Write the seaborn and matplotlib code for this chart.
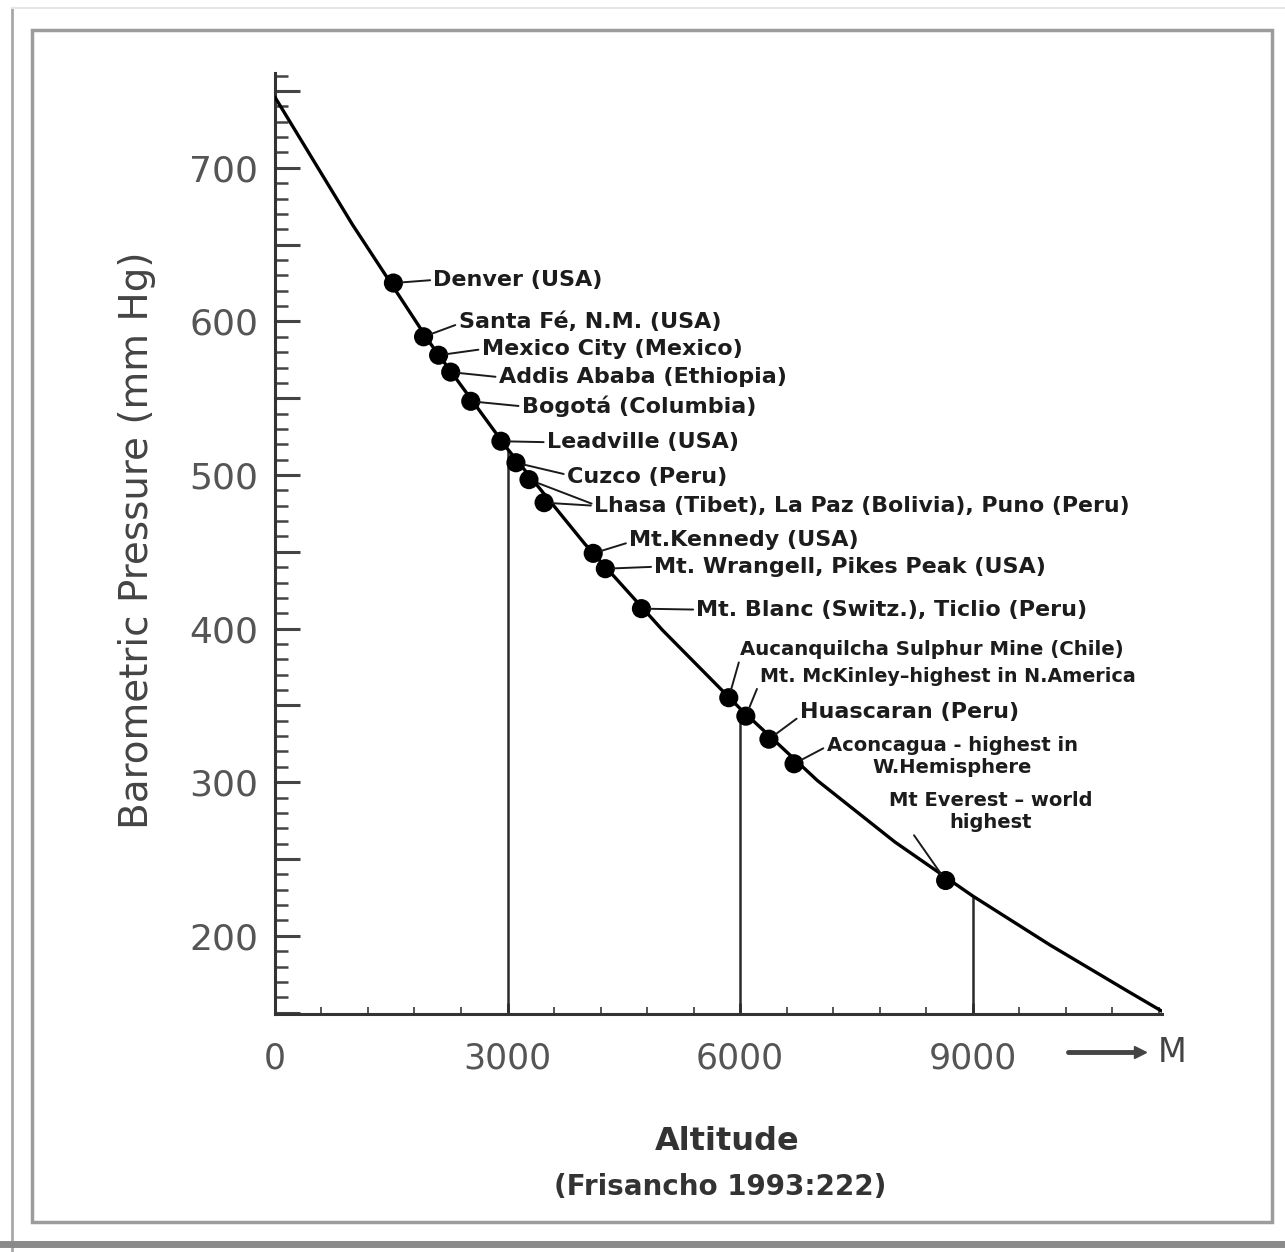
import numpy as np
import matplotlib
matplotlib.use("Agg")
import matplotlib.pyplot as plt
from matplotlib.ticker import MultipleLocator, FuncFormatter
from matplotlib.patches import Rectangle
from matplotlib.lines import Line2D
import seaborn as sns

# barometric pressure curve (altitude m, mm Hg)
curve_alt = [0, 1000, 2000, 3000, 4000, 5000, 6000, 7000, 8000, 9000, 10000, 11000, 11440]
curve_mmhg = [746, 663, 586, 517, 455, 399, 348, 301, 261, 226, 194, 164, 151]

# marked places
place_alt = [1528, 1917, 2111, 2267, 2526, 2915, 3109, 3277, 3472, 4106, 4262,
             4728, 5855, 6075, 6373, 6697, 8653]
place_mmhg = [625, 590, 578, 567, 548, 522, 508, 497, 482, 449, 439,
              413, 355, 343, 328, 312, 236]
place_names = [
    "Denver (USA)",
    "Santa Fé, N.M. (USA)",
    "Mexico City (Mexico)",
    "Addis Ababa (Ethiopia)",
    "Bogotá (Columbia)",
    "Leadville (USA)",
    "Cuzco (Peru)",
    "",
    "Lhasa (Tibet), La Paz (Bolivia), Puno (Peru)",
    "Mt.Kennedy (USA)",
    "Mt. Wrangell, Pikes Peak (USA)",
    "Mt. Blanc (Switz.), Ticlio (Peru)",
    "Aucanquilcha Sulphur Mine (Chile)",
    "Mt. McKinley–highest in N.America",
    "Huascaran (Peru)",
    "Aconcagua - highest in\nW.Hemisphere",
    "Mt Everest – world\nhighest",
]

# reference altitudes with drop lines
ref_alt = [3000, 6000, 9000]
ytick_vals = [200, 300, 400, 500, 600, 700]
xtick_vals = [0, 3000, 6000, 9000]

# label layout: (offset in points, ha, relpos of connector, fontsize)
label_layout = [
    ((28.8, 2.2), "left", (0, 0.5), 16),
    ((25.2, 10.8), "left", (0, 0.4), 16),
    ((31.0, 4.3), "left", (0, 0.5), 16),
    ((34.6, -3.6), "left", (0, 0.5), 16),
    ((36.7, -3.6), "left", (0, 0.5), 16),
    ((33.1, -0.7), "left", (0, 0.5), 16),
    ((36.7, -10.1), "left", (0, 0.6), 16),
    None,
    ((36.0, -2.2), "left", (0, 0.5), 15.8),
    ((25.9, 9.4), "left", (0, 0.4), 16),
    ((35.3, 1.4), "left", (0, 0.5), 16),
    ((39.6, -0.7), "left", (0, 0.5), 16),
    ((7.9, 34.6), "left", (0, 0.0), 14.2),
    ((10.1, 28.8), "left", (0, 0.2), 13.8),
    ((22.3, 19.4), "left", (0, 0.3), 16),
    ((113.8, 5.0), "center", (0, 0.75), 14),
    ((32.4, 49.7), "center", (0.07, 0.3), 14),
]

sns.set_style("white")
plt.rcParams["font.family"] = ["DejaVu Sans"]

fig = plt.figure(figsize=(12.85, 12.52), dpi=100)
fig.patch.set_facecolor("white")
ax = fig.add_axes([0.214, 0.190, 0.690, 0.752])
ax.set_facecolor("white")

ax.vlines(ref_alt, 149, np.interp(ref_alt, curve_alt, curve_mmhg),
          color="#2a2a2a", lw=1.8, zorder=2)
sns.lineplot(x=curve_alt, y=curve_mmhg, ax=ax, color="black", lw=2.4, zorder=3)
sns.scatterplot(x=place_alt, y=place_mmhg, ax=ax, s=190, color="black",
                edgecolor="none", zorder=4)

arrow_kw = dict(arrowstyle="-", color="#1a1a1a", lw=1.4, shrinkA=0, shrinkB=6)
for i, name in enumerate(place_names):
    lay = label_layout[i]
    if lay is None:
        continue
    off, ha, rel, fs = lay
    ax.annotate(name, xy=(place_alt[i], place_mmhg[i]), xytext=off,
                textcoords="offset points", ha=ha, va="center",
                multialignment="center", fontsize=fs, fontweight="bold",
                color="#1c1c1c", arrowprops=dict(arrow_kw, relpos=rel), zorder=5)
# second connector from the Lhasa / La Paz label
ax.annotate("", xy=(place_alt[7], place_mmhg[7]), xytext=(47, -18),
            textcoords="offset points", arrowprops=dict(arrow_kw, shrinkA=2))

ax.set_xlim(0, 11440)
ax.set_ylim(149, 762)
sns.despine(ax=ax)
for s in ["left", "bottom"]:
    ax.spines[s].set_color("#333333")
    ax.spines[s].set_linewidth(2.2)

ax.yaxis.set_major_locator(MultipleLocator(50))
ax.yaxis.set_minor_locator(MultipleLocator(10))
ax.yaxis.set_major_formatter(FuncFormatter(
    lambda v, p: f"{int(v)}" if int(round(v)) in ytick_vals else ""))
ax.set_xticks(xtick_vals)
ax.xaxis.set_minor_locator(MultipleLocator(600))
ax.tick_params(which="both", left=True, bottom=True)
ax.tick_params(axis="y", which="major", direction="in", length=18, width=2.2,
               color="#444444", labelsize=26, labelcolor="#555555", pad=12)
ax.tick_params(axis="y", which="minor", direction="in", length=9, width=1.8,
               color="#444444")
ax.tick_params(axis="x", which="major", direction="in", length=8, width=2,
               color="#444444", labelsize=25, labelcolor="#555555", pad=20)
ax.tick_params(axis="x", which="minor", direction="in", length=5, width=1.4,
               color="#555555")

fig.text(137 / 1285, 1 - 540 / 1252, "Barometric Pressure (mm Hg)", rotation=90,
         ha="center", va="center", fontsize=28, color="#444444")
fig.text(727 / 1285, 1 - 1142 / 1252, "Altitude", ha="center", va="center",
         fontsize=23, fontweight="bold", color="#333333")
fig.text(720 / 1285, 1 - 1187 / 1252, "(Frisancho 1993:222)", ha="center",
         va="center", fontsize=20, fontweight="bold", color="#333333")
fig.text(1172 / 1285, 1 - 1052 / 1252, "M", ha="center", va="center",
         fontsize=24, color="#444444")
fig.add_artist(Line2D([1068 / 1285, 1140 / 1285], [1 - 1052 / 1252] * 2,
                      transform=fig.transFigure, color="#444444", lw=3.5))
fig.add_artist(Line2D([1140 / 1285], [1 - 1052 / 1252], marker=">",
                      markersize=8, color="#444444", transform=fig.transFigure))

# picture frame with shadow
fig.add_artist(Rectangle((32 / 1285, 1 - 1222 / 1252), 1240 / 1285, 1192 / 1252,
                         transform=fig.transFigure, fill=False,
                         edgecolor="#9c9c9c", lw=2.5))
fig.add_artist(Line2D([12 / 1285] * 2, [0, 1 - 8 / 1252], transform=fig.transFigure,
                      color="#a8a8a8", lw=2))
fig.add_artist(Line2D([12 / 1285, 1], [1 - 8 / 1252] * 2, transform=fig.transFigure,
                      color="#e6e6e6", lw=1.5))
fig.add_artist(Line2D([0, 1], [1 - 1244 / 1252] * 2, transform=fig.transFigure,
                      color="#8a8a8a", lw=5))

fig.savefig("out.png", dpi=100, facecolor="white")
